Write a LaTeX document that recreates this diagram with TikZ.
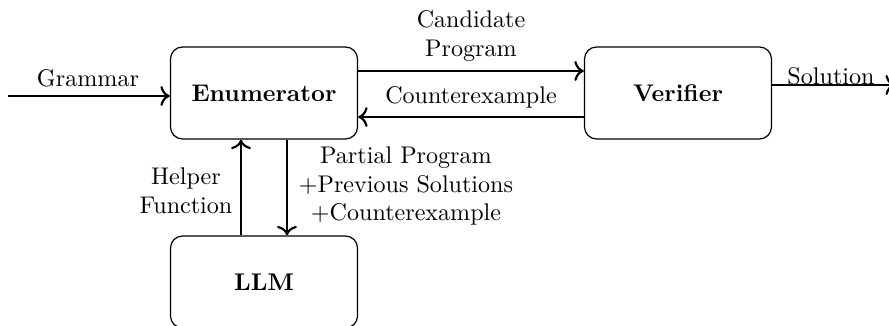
\documentclass[tikz,border=0pt]{standalone}
\usetikzlibrary{calc,arrows.meta}
\begin{document}
\begin{tikzpicture}[x=0.415pt,y=-0.415pt,
  blk/.style={draw,line width=0.5pt,rounded corners=5pt,minimum width=187*0.415pt,minimum height=92*0.415pt,inner sep=0pt,font=\bfseries},
  flow/.style={line width=0.9pt,-{To[scale=1.1]}},
  lbl/.style={align=center,inner sep=0pt}]
\useasboundingbox (0,0) rectangle (889,326);
\clip (0,0) rectangle (889,326);
\node[blk] (enum) at (264,93) {Enumerator};
\node[blk] (ver) at (678,93) {Verifier};
\node[blk] (llm) at (264,282) {LLM};
\coordinate (gin) at (8,96);
\coordinate (sout) at (895,85);
\draw[flow] (gin) -- (gin -| enum.west);
\draw[flow] ($(enum.east)+(0,-22)$) -- ($(ver.west)+(0,-22)$);
\draw[flow] ($(ver.west)+(0,24)$) -- ($(enum.east)+(0,24)$);
\draw[flow] (sout -| ver.east) -- (sout);
\draw[flow] ($(llm.north)+(-23,0)$) -- ($(enum.south)+(-23,0)$);
\draw[flow] ($(enum.south)+(23,0)$) -- ($(llm.north)+(23,0)$);
\node[lbl] (lg) at (88,78) {Grammar};
\node[lbl] (lc) at (471,36) {Candidate\\Program};
\node[lbl] (lx) at (471,97) {Counterexample};
\node[lbl] (ls) at (831,76) {Solution};
\node[lbl] (lh) at (186,191) {Helper\\Function};
\node[lbl] (lp) at (406,186) {Partial Program\\+Previous Solutions\\+Counterexample};
\end{tikzpicture}
\end{document}
